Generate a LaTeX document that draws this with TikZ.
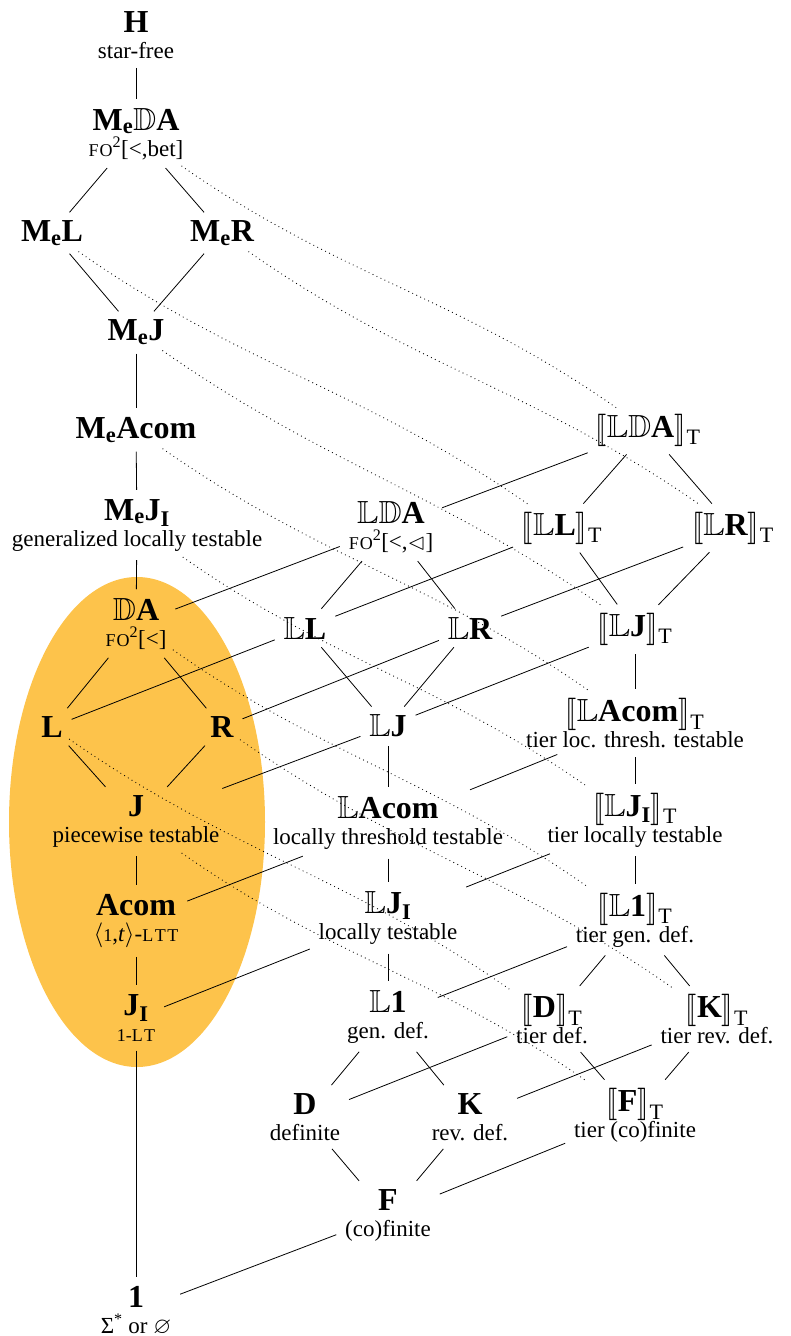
\documentclass[tikz,border=0pt]{standalone}
\usepackage{graphicx}
\usepackage{amssymb}
\usepackage{stmaryrd}
\usepackage{fontspec}
\setmainfont{Liberation Serif}
\definecolor{orangefill}{RGB}{253,195,75}
\newcommand{\bbL}{$\mathbb{L}$}
\newcommand{\bbD}{$\mathbb{D}$}
\newcommand{\Mee}{M\textsubscript{e}}
\newcommand{\Ttl}[1]{{\fontsize{32}{34}\selectfont\bfseries #1}}
\newcommand{\lbrk}{\raisebox{-1pt}{\scalebox{1.12}[1.3]{$\llbracket$}}}
\newcommand{\rbrk}{\raisebox{-1pt}{\scalebox{1.12}[1.3]{$\rrbracket$}}}
\newcommand{\Tier}[1]{{\fontsize{32}{34}\selectfont\bfseries \lbrk#1\rbrk\kern1pt\raisebox{-2pt}{\textsubscript{\mdseries\fontsize{22}{22}\selectfont T}}}}
\newcommand{\fsc}[1]{{\fontsize{18}{20}\selectfont #1}}
\begin{document}
\begin{tikzpicture}[x=1pt,y=1pt,
  nd/.style={align=center, inner sep=5pt, font=\fontsize{23}{26}\selectfont},
  ed/.style={draw, line width=0.8pt, shorten <=4pt, shorten >=4pt},
  dt/.style={draw, line width=1.2pt, line cap=round, dash pattern=on 0pt off 4.4pt, shorten <=2pt, shorten >=2pt}]
\useasboundingbox (0,0) rectangle (790,-1336);
\fill[orangefill] (137,-822) ellipse [x radius=128, y radius=245];
% left column
\node[nd] (H) at (136,-35) {\Ttl{H}\\star-free};
\node[nd] (MeDA) at (136,-134) {\Ttl{\Mee\bbD A}\\\fsc{F\kern1pt O}\textsuperscript{2}[<,bet]};
\node[nd] (MeL) at (52,-233) {\Ttl{\Mee L}};
\node[nd] (MeR) at (222,-233) {\Ttl{\Mee R}};
\node[nd] (MeJ) at (136,-332) {\Ttl{\Mee J}};
\node[nd] (MeAcom) at (136,-430) {\Ttl{\Mee Acom}};
\node[nd] (MeJI) at (137,-525) {\Ttl{\Mee J\textsubscript{I}}\\generalized locally testable};
\node[nd] (DA) at (136,-624) {\Ttl{\bbD A}\\\fsc{F\kern1pt O}\textsuperscript{2}[<]};
\node[nd] (L) at (52,-727) {\Ttl{L}};
\node[nd] (R) at (222,-727) {\Ttl{R}};
\node[nd] (J) at (136,-821) {\Ttl{J}\\piecewise testable};
\node[nd] (Acom) at (136,-921) {\Ttl{Acom}\\$\langle$\fsc{1},\textit{t}$\rangle$-\fsc{L\kern1.5pt T\kern1.5pt T}};
\node[nd] (JI) at (136,-1018) {\Ttl{J\textsubscript{I}}\\\fsc{1-L\kern1.5pt T}};
\node[nd] (One) at (136,-1311) {\Ttl{1}\\Σ\textsuperscript{*} or $\varnothing$};
% middle column
\node[nd] (LDA) at (391,-527) {\Ttl{\bbL\bbD A}\\\fsc{F\kern1pt O}\textsuperscript{2}[<,$\vartriangleleft$]};
\node[nd] (LL) at (305,-628) {\Ttl{\bbL L}};
\node[nd] (LR) at (470,-628) {\Ttl{\bbL R}};
\node[nd] (LJ) at (388,-726) {\Ttl{\bbL J}};
\node[nd] (LAcom) at (388,-823) {\Ttl{\bbL Acom}\\locally threshold testable};
\node[nd] (LJI) at (388,-918) {\Ttl{\bbL J\textsubscript{I}}\\locally testable};
\node[nd] (L1) at (388,-1017) {\Ttl{\bbL 1}\\gen. def.};
\node[nd] (D) at (305,-1117) {\Ttl{D}\\definite};
\node[nd] (K) at (470,-1117) {\Ttl{K}\\rev. def.};
\node[nd] (F) at (388,-1215) {\Ttl{F}\\(co)finite};
% right column
\node[nd] (TLDA) at (648,-430) {\Tier{\bbL\bbD A}};
\node[nd] (TLL) at (562,-528) {\Tier{\bbL L}};
\node[nd] (TLR) at (733,-528) {\Tier{\bbL R}};
\node[nd] (TLJ) at (635,-629) {\Tier{\bbL J}};
\node[nd] (TLAcom) at (635,-723) {\Tier{\bbL Acom}\\tier loc. thresh. testable};
\node[nd] (TLJI) at (635,-820) {\Tier{\bbL J\textsubscript{I}}\\tier locally testable};
\node[nd] (TL1) at (635,-920) {\Tier{\bbL 1}\\tier gen. def.};
\node[nd] (TD) at (552,-1019) {\Tier{D}\\tier def.};
\node[nd] (TK) at (717,-1019) {\Tier{K}\\tier rev. def.};
\node[nd] (TF) at (635,-1115) {\Tier{F}\\tier (co)finite};
% left lattice
\draw[ed] (H) -- (MeDA);
\draw[ed] (MeDA) -- (MeL);
\draw[ed] (MeDA) -- (MeR);
\draw[ed] (MeL) -- (MeJ);
\draw[ed] (MeR) -- (MeJ);
\draw[ed] (MeJ) -- (MeAcom);
\draw[ed] (MeAcom) -- (MeJI);
\draw[ed] (MeJI) -- (DA);
\draw[ed] (DA) -- (L);
\draw[ed] (DA) -- (R);
\draw[ed] (L) -- (J);
\draw[ed] (R) -- (J);
\draw[ed] (J) -- (Acom);
\draw[ed] (Acom) -- (JI);
\draw[ed] (JI) -- (One);
% middle lattice
\draw[ed] (LDA) -- (LL);
\draw[ed] (LDA) -- (LR);
\draw[ed] (LL) -- (LJ);
\draw[ed] (LR) -- (LJ);
\draw[ed] (LJ) -- (LAcom);
\draw[ed] (LAcom) -- (LJI);
\draw[ed] (LJI) -- (L1);
\draw[ed] (L1) -- (D);
\draw[ed] (L1) -- (K);
\draw[ed] (D) -- (F);
\draw[ed] (K) -- (F);
% right lattice
\draw[ed] (TLDA) -- (TLL);
\draw[ed] (TLDA) -- (TLR);
\draw[ed] (TLL) -- (TLJ);
\draw[ed] (TLR) -- (TLJ);
\draw[ed] (TLJ) -- (TLAcom);
\draw[ed] (TLAcom) -- (TLJI);
\draw[ed] (TLJI) -- (TL1);
\draw[ed] (TL1) -- (TD);
\draw[ed] (TL1) -- (TK);
\draw[ed] (TD) -- (TF);
\draw[ed] (TK) -- (TF);
% cross edges
\draw[ed] (DA) -- (LDA);
\draw[ed] (LDA) -- (TLDA);
\draw[ed] (L) -- (LL);
\draw[ed] (LL) -- (TLL);
\draw[ed] (R) -- (LR);
\draw[ed] (LR) -- (TLR);
\draw[ed] (J) -- (LJ);
\draw[ed] (LJ) -- (TLJ);
\draw[ed] (Acom) -- (LAcom);
\draw[ed] (LAcom) -- (TLAcom);
\draw[ed] (JI) -- (LJI);
\draw[ed] (LJI) -- (TLJI);
\draw[ed] (L1) -- (TL1);
\draw[ed] (D) -- (TD);
\draw[ed] (K) -- (TK);
\draw[ed] (F) -- (TF);
\draw[ed] (One) -- (F);
% dotted
\draw[dt] (MeDA) to[out=-35,in=145] (TLDA);
\draw[dt] (MeL) to[out=-35,in=145] (TLL);
\draw[dt] (MeR) to[out=-35,in=145] (TLR);
\draw[dt] (MeJ) to[out=-35,in=145] (TLJ);
\draw[dt] (MeAcom) to[out=-35,in=145] (TLAcom);
\draw[dt] (MeJI) to[out=-35,in=145] (TLJI);
\draw[dt] (DA) to[out=-35,in=145] (TL1);
\draw[dt] (L) to[out=-35,in=145] (TD);
\draw[dt] (R) to[out=-35,in=145] (TK);
\draw[dt] (J) to[out=-35,in=145] (TF);
\end{tikzpicture}
\end{document}
